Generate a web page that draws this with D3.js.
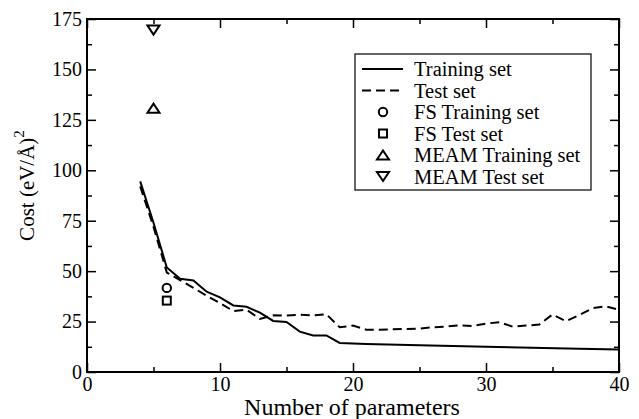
<!DOCTYPE html>
<html lang="en">
<head>
<meta charset="UTF-8">
<title>Cost vs number of parameters</title>
<script src="https://cdnjs.cloudflare.com/ajax/libs/d3/7.8.5/d3.min.js"></script>
<style>
    body { margin: 0; background: #fff; }
    svg { display: block; font-family: "Liberation Serif", "Times New Roman", serif; }
</style>
</head>
<body>
<svg id="chart" width="639" height="419"></svg>
<script>
// Training set (solid line)
const trainX = [4, 5, 6, 7, 8, 9, 10, 11, 12, 13, 14, 15, 16, 17, 18, 19, 21, 25, 30, 37, 40];
const trainY = [94.5, 74, 51.8, 46.2, 45.4, 39.8, 37, 33, 32.3, 29.4, 25.3, 24.8, 20, 18.1, 18.1, 14.4, 13.9, 13.3, 12.5, 11.5, 11.2];

// Test set (dashed line)
const testX = [4, 5, 6, 7, 8, 9, 10, 11, 12, 13, 14, 15, 16, 17, 18, 19, 20, 21, 22, 23, 24, 25, 26, 27, 28, 29, 30, 31, 32, 33, 34, 35, 36, 37, 38, 39, 40];
const testY = [92, 72, 49.3, 45.5, 41.7, 37.8, 34.2, 30.2, 30.9, 26.3, 28.1, 28, 28.4, 28, 28.6, 22.2, 23, 21, 21, 21.2, 21.3, 21.5, 22.2, 22.5, 23.2, 22.8, 24, 24.7, 22.5, 23, 23.5, 28.5, 25.2, 28.2, 31.6, 32.6, 30.9];

// single reference points
const fsTrain = [[6, 41.7]];
const fsTest = [[6, 35.4]];
const meamTrain = [[5, 130.8]];
const meamTest = [[5, 169.5]];

const xTicks = [0, 10, 20, 30, 40];
const yTicks = [0, 25, 50, 75, 100, 125, 150, 175];

const legendItems = [
    { label: "Training set", kind: "solid" },
    { label: "Test set", kind: "dash" },
    { label: "FS Training set", kind: "circle" },
    { label: "FS Test set", kind: "square" },
    { label: "MEAM Training set", kind: "up" },
    { label: "MEAM Test set", kind: "down" }
];

const serif = '"Liberation Serif", "Times New Roman", serif';
const margin = { top: 19, right: 20, bottom: 47, left: 87 };
const width = 639, height = 419;

const svg = d3.select("#chart");

const x = d3.scaleLinear().domain([0, 40]).range([margin.left, width - margin.right]);
const y = d3.scaleLinear().domain([0, 175]).range([height - margin.bottom, margin.top]);

const minorX = d3.range(5, 40, 10);
const minorY = d3.range(12.5, 175, 25);

// frame
svg.append("rect")
    .attr("x", x(0)).attr("y", y(175))
    .attr("width", x(40) - x(0)).attr("height", y(0) - y(175))
    .attr("fill", "none").attr("stroke", "#000").attr("stroke-width", 2);

// axes with inward ticks
function styleAxis(g) {
    g.attr("font-family", serif).attr("font-size", 20);
    g.select(".domain").remove();
    g.selectAll(".tick line").attr("stroke", "#000").attr("stroke-width", 1.5);
    g.selectAll(".tick text").attr("fill", "#000")
        .style("font-family", serif).style("font-size", "20px");
}

svg.append("g")
    .attr("transform", `translate(0,${y(0)})`)
    .call(d3.axisBottom(x).tickValues(xTicks).tickSizeInner(-9).tickSizeOuter(0).tickPadding(5))
    .call(styleAxis);

svg.append("g")
    .attr("transform", `translate(0,${y(0)})`)
    .call(d3.axisBottom(x).tickValues(minorX).tickSizeInner(-5).tickSizeOuter(0).tickFormat(""))
    .call(styleAxis);

svg.append("g")
    .attr("transform", `translate(0,${y(175)})`)
    .call(d3.axisTop(x).tickValues(xTicks).tickSizeInner(-9).tickSizeOuter(0).tickFormat(""))
    .call(styleAxis);

svg.append("g")
    .attr("transform", `translate(0,${y(175)})`)
    .call(d3.axisTop(x).tickValues(minorX).tickSizeInner(-5).tickSizeOuter(0).tickFormat(""))
    .call(styleAxis);

svg.append("g")
    .attr("transform", `translate(${x(0)},0)`)
    .call(d3.axisLeft(y).tickValues(yTicks).tickSizeInner(-9).tickSizeOuter(0).tickPadding(5))
    .call(styleAxis);

svg.append("g")
    .attr("transform", `translate(${x(0)},0)`)
    .call(d3.axisLeft(y).tickValues(minorY).tickSizeInner(-5).tickSizeOuter(0).tickFormat(""))
    .call(styleAxis);

svg.append("g")
    .attr("transform", `translate(${x(40)},0)`)
    .call(d3.axisRight(y).tickValues(yTicks).tickSizeInner(-9).tickSizeOuter(0).tickFormat(""))
    .call(styleAxis);

svg.append("g")
    .attr("transform", `translate(${x(40)},0)`)
    .call(d3.axisRight(y).tickValues(minorY).tickSizeInner(-5).tickSizeOuter(0).tickFormat(""))
    .call(styleAxis);

// axis titles
svg.append("text")
    .attr("x", (x(0) + x(40)) / 2 - 1).attr("y", 415)
    .attr("text-anchor", "middle").attr("font-size", 24)
    .text("Number of parameters");

const yTitle = svg.append("text")
    .attr("transform", `translate(34,${(y(0) + y(175)) / 2 - 10}) rotate(-90)`)
    .attr("text-anchor", "middle").attr("font-size", 21);
yTitle.append("tspan").text("Cost (eV/Å)");
yTitle.append("tspan").attr("dy", -10).attr("font-size", 15).text("2");

// lines
const line = d3.line().x(d => x(d[0])).y(d => y(d[1]));

svg.append("path")
    .datum(testX.map((v, i) => [v, testY[i]]))
    .attr("fill", "none").attr("stroke", "#000").attr("stroke-width", 2)
    .attr("stroke-dasharray", "9,5")
    .attr("d", line);

svg.append("path")
    .datum(trainX.map((v, i) => [v, trainY[i]]))
    .attr("fill", "none").attr("stroke", "#000").attr("stroke-width", 2)
    .attr("d", line);

// marker shapes (hollow)
function drawMarker(g, kind, cx, cy) {
    if (kind === "circle") {
        g.append("circle").attr("cx", cx).attr("cy", cy).attr("r", 4.2)
            .attr("fill", "none").attr("stroke", "#000").attr("stroke-width", 2);
        return;
    }
    if (kind === "square") {
        g.append("rect").attr("x", cx - 4).attr("y", cy - 4).attr("width", 8).attr("height", 8)
            .attr("fill", "none").attr("stroke", "#000").attr("stroke-width", 2);
        return;
    }
    const w = 6, h = 4.5;
    const pts = kind === "up"
        ? [[cx - w, cy + h], [cx + w, cy + h], [cx, cy - h]]
        : [[cx - w, cy - h], [cx + w, cy - h], [cx, cy + h]];
    g.append("path")
        .attr("d", "M" + pts.join("L") + "Z")
        .attr("fill", "none").attr("stroke", "#000").attr("stroke-width", 2)
        .attr("stroke-linejoin", "miter");
}

const markers = svg.append("g");
fsTrain.forEach(d => drawMarker(markers, "circle", x(d[0]), y(d[1])));
fsTest.forEach(d => drawMarker(markers, "square", x(d[0]), y(d[1])));
meamTrain.forEach(d => drawMarker(markers, "up", x(d[0]), y(d[1])));
meamTest.forEach(d => drawMarker(markers, "down", x(d[0]), y(d[1])));

// legend
const legend = svg.append("g");
legend.append("rect")
    .attr("x", 355).attr("y", 54).attr("width", 236).attr("height", 136)
    .attr("fill", "#fff").attr("stroke", "#000").attr("stroke-width", 1.2);

legendItems.forEach((item, i) => {
    const cy = 69 + i * 21.5;
    if (item.kind === "solid" || item.kind === "dash") {
        legend.append("line")
            .attr("x1", 362).attr("x2", 403).attr("y1", cy).attr("y2", cy)
            .attr("stroke", "#000").attr("stroke-width", 2)
            .attr("stroke-dasharray", item.kind === "dash" ? "9,5" : null);
    } else {
        drawMarker(legend, item.kind, 383, cy);
    }
    legend.append("text")
        .attr("x", 414).attr("y", cy + 7)
        .attr("font-size", 20.5)
        .text(item.label);
});
</script>
</body>
</html>
